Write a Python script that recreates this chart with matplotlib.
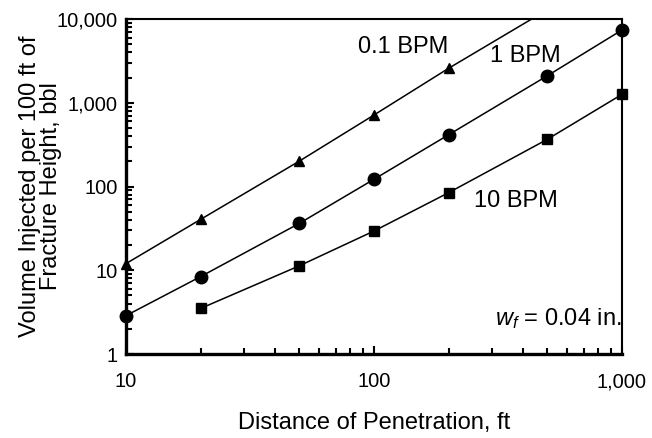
import matplotlib
matplotlib.use("Agg")
import matplotlib.pyplot as plt
from matplotlib.ticker import FuncFormatter, LogLocator, NullFormatter

plt.rcParams["font.family"] = ["Liberation Sans", "DejaVu Sans"]
plt.rcParams["mathtext.fontset"] = "custom"
plt.rcParams["mathtext.rm"] = "Liberation Sans"
plt.rcParams["mathtext.it"] = "Liberation Sans:italic"

# data
rate_01_x = [10, 20, 50, 100, 200]
rate_01_y = [12, 40.5, 201, 714, 2580]
rate_01_line_x = [10, 20, 50, 100, 200, 500]   # line runs on past the last point
rate_01_line_y = [12, 40.5, 201, 714, 2580, 12900]

rate_1_x = [10, 20, 50, 100, 200, 500, 1000]
rate_1_y = [2.87, 8.4, 36.3, 122, 415, 2100, 7390]

rate_10_x = [20, 50, 100, 200, 500, 1000]
rate_10_y = [3.5, 11.3, 29.4, 84.4, 366, 1260]

x_ticks = [10, 100, 1000]
y_ticks = [1, 10, 100, 1000, 10000]

fig = plt.figure(figsize=(6.52, 4.38), dpi=100)
ax = fig.add_axes([126 / 652, 1 - 354 / 438, 496 / 652, 335 / 438])

ax.set_xscale("log")
ax.set_yscale("log")
ax.set_xlim(10, 1000)
ax.set_ylim(1, 10000)

lw = 1.1
ax.plot(rate_01_line_x, rate_01_line_y, color="black", lw=lw)
ax.plot(rate_01_x, rate_01_y, ls="none", marker="^", ms=7.5, color="black", clip_on=False)
ax.plot(rate_1_x, rate_1_y, color="black", lw=lw, marker="o", ms=9, clip_on=False)
ax.plot(rate_10_x, rate_10_y, color="black", lw=lw, marker="s", ms=7, clip_on=False)

comma = FuncFormatter(lambda v, p: f"{v:,.0f}")
ax.set_xticks(x_ticks)
ax.set_yticks(y_ticks)
ax.xaxis.set_major_formatter(comma)
ax.yaxis.set_major_formatter(comma)
ax.xaxis.set_minor_locator(LogLocator(base=10, subs=range(2, 10)))
ax.yaxis.set_minor_locator(LogLocator(base=10, subs=range(2, 10)))
ax.xaxis.set_minor_formatter(NullFormatter())
ax.yaxis.set_minor_formatter(NullFormatter())

ax.tick_params(axis="both", which="both", direction="in", top=False, right=False, colors="black")
ax.tick_params(axis="both", which="major", length=6, width=1.5, labelsize=14.5)
ax.tick_params(axis="both", which="minor", length=4, width=1.5)
ax.tick_params(axis="x", which="major", pad=13)
ax.tick_params(axis="y", which="major", pad=6)

for side in ["left", "bottom"]:
    ax.spines[side].set_linewidth(2.4)
for side in ["top", "right"]:
    ax.spines[side].set_linewidth(1.5)

ax.set_xlabel("Distance of Penetration, ft", fontsize=17, labelpad=15)
ax.set_ylabel("Volume Injected per 100 ft of\nFracture Height, bbl", fontsize=17,
              labelpad=-4, linespacing=0.95)

ax.text(0.558, 0.916, "0.1 BPM", transform=ax.transAxes, fontsize=17, ha="center", va="center")
ax.text(0.806, 0.89, "1 BPM", transform=ax.transAxes, fontsize=17, ha="center", va="center")
ax.text(0.786, 0.457, "10 BPM", transform=ax.transAxes, fontsize=17, ha="center", va="center")
ax.text(0.871, 0.107, "$w_f$ = 0.04 in.", transform=ax.transAxes, fontsize=17, ha="center", va="center")

fig.savefig("out.png", dpi=100)
